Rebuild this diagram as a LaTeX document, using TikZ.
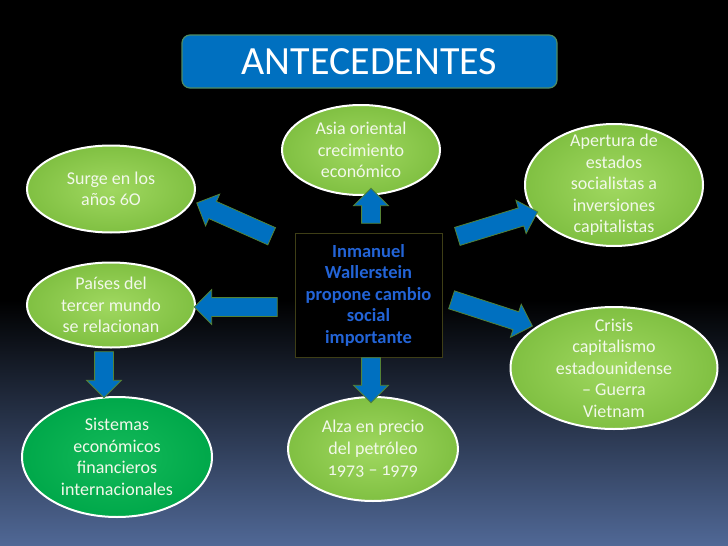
\documentclass[tikz,border=0pt]{standalone}
\usepackage{fontspec}
\setmainfont{Carlito}[Numbers=OldStyle]
\usepackage{tikz}
\usetikzlibrary{shapes.geometric,shapes.arrows}

\definecolor{slideblue}{RGB}{0,112,192}
\definecolor{arrowrim}{RGB}{84,130,53}
\definecolor{titlerim}{RGB}{80,140,100}
\definecolor{lightgreen}{RGB}{128,192,66}
\definecolor{lightgreenhi}{RGB}{160,216,96}
\definecolor{darkgreen}{RGB}{0,168,74}
\definecolor{darkgreenhi}{RGB}{20,186,90}
\definecolor{bubbletext}{RGB}{242,248,234}
\definecolor{boxrim}{RGB}{62,62,22}
\definecolor{boxtext}{RGB}{35,100,215}
\definecolor{bgmid}{RGB}{26,33,50}
\definecolor{bgbottom}{RGB}{80,104,150}

\begin{document}
\begin{tikzpicture}[x=1pt, y=-1pt,
  title/.style={draw=titlerim, line width=1.2pt, fill=slideblue, rounded corners=8pt, text=white, minimum width=375, minimum height=53, font=\fontsize{40}{44}\selectfont},
  core/.style={draw=boxrim, line width=1pt, fill=black, text=boxtext, align=center, minimum width=147, minimum height=124, font=\bfseries\fontsize{18.5}{21.5}\selectfont},
  bubble/.style={ellipse, draw=white, line width=2pt, inner sep=-30pt, inner color=lightgreenhi, outer color=lightgreen, text=bubbletext, align=center, font=\fontsize{18}{21.5}\selectfont},
  deep/.style={inner color=darkgreenhi, outer color=darkgreen},
  blkarr/.style={single arrow, draw=arrowrim, line width=0.8pt, fill=slideblue, inner xsep=0pt, inner ysep=9pt, single arrow head extend=8pt, single arrow tip angle=90, minimum height=#1}]
  \useasboundingbox (0,0) rectangle (728,546);
  \fill[black] (0,0) rectangle (728,546);
  \shade[top color=black, middle color=bgmid, bottom color=bgbottom] (0,300) rectangle (728,546);

  \node[title] (ttl) at (369.5,61.5) {ANTECEDENTES};
  \node[core] (wall) at (368.5,295) {Inmanuel\\Wallerstein\\propone cambio\\social\\importante};

  \node[bubble, minimum width=158, minimum height=90] (asia) at (361,150) {Asia oriental\\crecimiento\\económico};
  \node[bubble, minimum width=168, minimum height=87] (surge) at (111,189) {Surge en los\\años 6O};
  \node[bubble, minimum width=168, minimum height=85] (paises) at (111,305) {Países del\\tercer mundo\\se relacionan};
  \node[bubble, deep, minimum width=190, minimum height=120] (sist) at (117,457) {Sistemas\\económicos\\financieros\\internacionales};
  \node[bubble, minimum width=170, minimum height=104] (alza) at (373,449) {Alza en precio\\del petróleo\\1973 -- 1979};
  \node[bubble, minimum width=178, minimum height=122] (apert) at (614,185) {Apertura de\\estados\\socialistas a\\inversiones\\capitalistas};
  \node[bubble, minimum width=207, minimum height=122] (crisis) at (614,368) {Crisis\\capitalismo\\estadounidense\\-- Guerra\\Vietnam};

  \node[blkarr=35, rotate=90] (toasia) at (371,210.5) {};
  \node[blkarr=82, rotate=156] (tosurge) at (238.5,221.5) {};
  \node[blkarr=83, rotate=180] (topaises) at (240.5,307) {};
  \node[blkarr=84, rotate=17] (toapert) at (493,225.5) {};
  \node[blkarr=85, rotate=-18] (tocrisis) at (487.5,311.5) {};
  \node[blkarr=45, rotate=-90] (toalza) at (371,375.5) {};
  \node[blkarr=46, rotate=-90] (tosist) at (104,370) {};
\end{tikzpicture}
\end{document}
